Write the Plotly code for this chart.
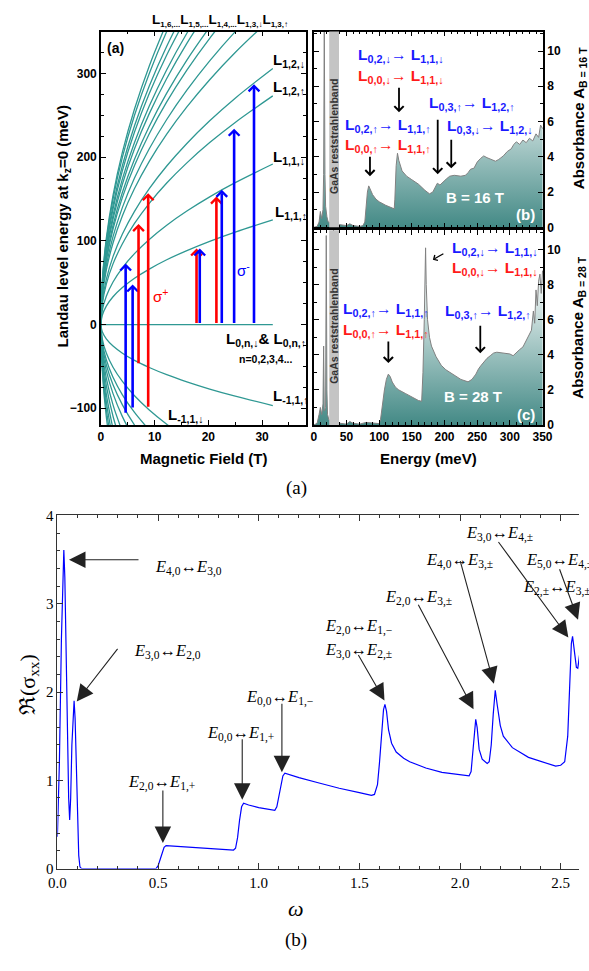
import plotly.graph_objects as go

W, H = 589, 971
def PX(x): return x / W
def PY(y): return 1 - y / H

TEAL = '#2f9893'
SANS = 'Liberation Sans, Arial, sans-serif'
SERIF = 'Liberation Serif, Times New Roman, serif'

# ---------------- panel (a): Landau levels (meV) vs magnetic field (T) ----------------
field_T = [0, 0.25, 1, 2.25, 4, 6.25, 9, 12.25, 16, 20.25, 25, 32]
levels_pos = [
    [0, 11.1, 22.1, 33.2, 44.2, 55.3, 66.3, 77.4, 88.4, 99.5, 110.5, 125.0],
    [0, 17.0, 33.9, 50.9, 67.8, 84.8, 101.7, 118.7, 135.6, 152.6, 169.5, 191.8],
    [0, 24.2, 48.3, 72.5, 96.6, 120.8, 144.9, 169.1, 193.2, 217.4, 241.5, 273.2],
    [0, 27.1, 54.1, 81.2, 108.2, 135.3, 162.3, 189.4, 216.4, 243.5, 270.5, 306.0],
    [0, 32.5, 65, 97.5, 130, 162.5, 195, 227.5, 260, 292.5, 325, 367.7],
    [0, 35, 70, 105, 140, 175, 210, 245, 280, 315, 350, 396],
    [0, 38, 76, 114, 152, 190, 228, 266, 304, 342, 380],
    [0, 39.5, 79, 118.5, 158, 197.5, 237, 276.5, 316, 355.5],
    [0, 42, 84, 126, 168, 210, 252, 294, 336, 378],
    [0, 43.5, 87, 130.5, 174, 217.5, 261, 304.5, 348, 391.5],
    [0, 46, 92, 138, 184, 230, 276, 322, 368],
    [0, 47.5, 95, 142.5, 190, 237.5, 285, 332.5, 380],
    [0, 50, 100, 150, 200, 250, 300, 350, 400],
    [0, 51.5, 103, 154.5, 206, 257.5, 309, 360.5],
]
levels_neg = [
    [0, -8.6, -17.1, -25.7, -34.2, -42.8, -51.3, -59.9, -68.4, -77.0, -85.5, -96.7],
    [0, -17, -34, -51, -68, -85, -102, -119, -136],
    [0, -21, -42, -63, -84, -105, -126],
    [0, -24, -48, -72, -96, -120, -144],
    [0, -27.5, -55, -82.5, -110, -137.5],
    [0, -32, -64, -96, -128],
    [0, -36.5, -73, -109.5, -146],
    [0, -41.5, -83, -124.5],
    [0, -46, -92, -138],
    [0, -50.5, -101, -151.5],
    [0, -55, -110, -165],
]
zero_B = [0, 32]
zero_E = [0, 0]

# optical transitions (vertical arrows)
tr_B = [4.6, 5.9, 7.0, 8.8, 17.8, 18.4, 21.5, 22.5, 24.8, 28.5]
tr_from = [-107, -101, -48, -100, 0, 0, 0, 0, 0, 0]
tr_to = [73, 48, 120, 157, 91, 91, 153, 161, 234, 287]
tr_color = ['#0000ff', '#0000ff', '#ff0000', '#ff0000', '#ff0000', '#0000ff',
            '#ff0000', '#0000ff', '#0000ff', '#0000ff']

# ---------------- panel (b): absorbance at 16 T ----------------
E16 = [0, 5, 8, 10, 12, 14, 15, 16, 17, 18, 20, 22, 40, 50, 55, 60, 70, 75, 78, 80, 82, 84,
       86, 90, 95, 100, 110, 120, 123, 124, 126, 128, 130, 135, 142, 150, 160, 170, 177, 182,
       186, 189, 193, 198, 203, 208, 215, 225, 232, 236, 240, 245, 250, 255, 260, 265, 272,
       278, 283, 290, 296, 302, 306, 310, 315, 320, 325, 330, 335, 340, 344, 347, 350]
A16 = [0, 0.05, 0.3, 0.9, 0.5, 1.0, 3.0, 11.5, 3.0, 1.2, 0.6, 0.3, 0.15, 0.1, 0.2, 0.1, 0.05,
       0.1, 0.3, 1.2, 2.0, 2.35, 2.2, 1.85, 1.6, 1.45, 1.25, 1.08, 1.05, 1.6, 3.5, 4.2, 3.8,
       3.2, 2.9, 2.7, 2.45, 2.1, 1.9, 2.0, 2.3, 2.5, 2.4, 2.6, 2.75, 2.9, 2.95, 2.9, 2.95, 3.1,
       3.3, 3.35, 3.7, 3.9, 4.05, 3.95, 3.85, 3.75, 3.85, 4.05, 4.3, 4.45, 4.7, 4.85, 4.7,
       4.95, 4.8, 5.05, 4.9, 5.3, 5.1, 5.8, 5.6]

# ---------------- panel (c): absorbance at 28 T ----------------
E28 = [0, 5, 8, 10, 12, 14, 15, 16, 18, 19, 20, 21, 23, 40, 50, 55, 60, 70, 80, 90, 100, 102,
       105, 108, 111, 114, 117, 120, 125, 130, 140, 150, 160, 165, 167, 169, 171, 172, 174,
       177, 180, 187, 195, 202, 210, 216, 225, 236, 242, 248, 252, 256, 260, 265, 270, 275,
       280, 290, 300, 305, 310, 315, 320, 325, 330, 333, 336, 338, 340, 342, 344, 346, 348, 350]
A28 = [0, 0.1, 0.6, 1.0, 0.6, 1.2, 4.5, 0.8, 1.0, 10.8, 2.0, 0.6, 0.3, 0.1, 0.05, 0.2, 0.1,
       0.05, 0.15, 0.1, 0.08, 0.3, 1.2, 2.0, 2.6, 2.9, 2.75, 2.45, 2.15, 2.0, 1.8, 1.6, 1.4,
       1.35, 3.0, 6.0, 10.1, 8.0, 6.0, 5.0, 4.5, 3.9, 3.4, 3.15, 2.95, 2.8, 2.6, 2.46, 2.6,
       2.9, 3.2, 3.4, 3.6, 3.8, 3.95, 4.1, 4.15, 4.1, 4.05, 3.95, 4.15, 4.3, 4.45, 4.8, 5.1,
       5.4, 6.5, 5.8, 7.7, 6.8, 8.2, 8.6, 7.5, 8.8]
reststrahlen_band = [23.5, 38.5]

# ---------------- bottom panel: Re(sigma_xx) vs omega ----------------
omega = [0.000, 0.010, 0.020, 0.027, 0.032, 0.037, 0.043, 0.050, 0.056, 0.061, 0.066, 0.072,
         0.078, 0.083, 0.088, 0.094, 0.100, 0.106, 0.112, 0.120, 0.490, 0.500, 0.510, 0.520,
         0.530, 0.540, 0.600, 0.700, 0.800, 0.875, 0.885, 0.895, 0.905, 0.915, 0.925, 0.950,
         1.000, 1.050, 1.080, 1.090, 1.100, 1.110, 1.120, 1.130, 1.200, 1.300, 1.400, 1.500,
         1.560, 1.575, 1.590, 1.600, 1.610, 1.620, 1.627, 1.635, 1.645, 1.660, 1.683, 1.720,
         1.750, 1.830, 1.910, 2.000, 2.045, 2.055, 2.065, 2.072, 2.078, 2.085, 2.095, 2.110,
         2.135, 2.145, 2.155, 2.165, 2.175, 2.185, 2.200, 2.215, 2.260, 2.340, 2.420, 2.475,
         2.500, 2.520, 2.535, 2.545, 2.553, 2.559, 2.567, 2.578, 2.585, 2.595, 2.610]
re_sigma = [0.36, 1.2, 2.6, 3.3, 3.61, 3.3, 2.4, 1.4, 0.8, 0.55, 0.8, 1.4,
            1.8, 1.90, 1.7, 1.1, 0.5, 0.15, 0.02, 0.0, 0.0, 0.03, 0.10, 0.18,
            0.24, 0.26, 0.25, 0.235, 0.22, 0.21, 0.23, 0.35, 0.55, 0.70, 0.74, 0.72,
            0.69, 0.67, 0.66, 0.70, 0.82, 0.96, 1.05, 1.08, 1.03, 0.97, 0.91, 0.86,
            0.83, 0.84, 0.95, 1.2, 1.55, 1.80, 1.86, 1.78, 1.57, 1.42, 1.32, 1.25,
            1.21, 1.14, 1.09, 1.06, 1.05, 1.1, 1.35, 1.6, 1.69, 1.6, 1.35, 1.24,
            1.19, 1.21, 1.40, 1.75, 2.02, 1.85, 1.62, 1.50, 1.37, 1.26, 1.20, 1.16,
            1.17, 1.21, 1.5, 2.1, 2.55, 2.63, 2.5, 2.28, 2.27, 2.45, 2.7]

fig = go.Figure()

for E in levels_pos + levels_neg:
    fig.add_trace(go.Scatter(x=field_T[:len(E)], y=E, mode='lines',
                             line=dict(color=TEAL, width=1.3, shape='spline'),
                             xaxis='x', yaxis='y', showlegend=False, hoverinfo='skip'))
fig.add_trace(go.Scatter(x=zero_B, y=zero_E, mode='lines', line=dict(color=TEAL, width=1.3),
                         xaxis='x', yaxis='y', showlegend=False, hoverinfo='skip'))

grad = dict(type='vertical', colorscale=[[0, '#3f8783'], [1, '#e4eeed']], start=0, stop=7.5)
fig.add_trace(go.Scatter(x=E16, y=A16, mode='lines', fill='tozeroy', fillgradient=grad,
                         line=dict(color='#808080', width=1), xaxis='x2', yaxis='y2',
                         showlegend=False, hoverinfo='skip'))
fig.add_trace(go.Scatter(x=E28, y=A28, mode='lines', fill='tozeroy', fillgradient=grad,
                         line=dict(color='#808080', width=1), xaxis='x3', yaxis='y3',
                         showlegend=False, hoverinfo='skip'))

fig.add_trace(go.Scatter(x=omega, y=re_sigma, mode='lines', line=dict(color='#0000ff', width=1.2),
                         xaxis='x4', yaxis='y4', showlegend=False, hoverinfo='skip'))

ann = []
shapes = []

# transitions in (a)
for b, e0, e1, c in zip(tr_B, tr_from, tr_to, tr_color):
    ann.append(dict(x=b, y=e1, ax=b, ay=e0, xref='x', yref='y', axref='x', ayref='y',
                    text='', showarrow=True, arrowhead=4, arrowsize=0.8, arrowwidth=2.6,
                    arrowcolor=c))

def txt(t, x, y, size=13, color='black', family=SANS, bold=True, xanchor='left',
        yanchor='middle', angle=0):
    ann.append(dict(text=t, x=PX(x), y=PY(y), xref='paper', yref='paper', showarrow=False,
                    xanchor=xanchor, yanchor=yanchor, textangle=angle,
                    font=dict(size=size, color=color, family=family,
                              weight='bold' if bold else 'normal')))

def arr(x0, y0, x1, y1, color='black', width=1.8, head=4, size=1.0):
    ann.append(dict(text='', x=PX(x1), y=PY(y1), xref='paper', yref='paper',
                    axref='pixel', ayref='pixel', ax=x0 - x1, ay=y0 - y1, showarrow=True,
                    arrowhead=head, arrowsize=size, arrowwidth=width, arrowcolor=color))

def ssub(s, px=8):
    return '<sub><span style="font-size:%gpx">%s</span></sub>' % (px, s)

# panel (a) labels
top_row = ('L' + ssub('1,6,...') + 'L' + ssub('1,5,...') + 'L' + ssub('1,4,...') +
           'L' + ssub('1,3,↓') + 'L' + ssub('1,3,↑'))
txt(top_row, 218, 13, 13.5, xanchor='center')
txt('L<sub>1,2,↓</sub>', 271, 53, 15)
txt('L<sub>1,2,↑</sub>', 271, 81, 15)
txt('L<sub>1,1,↓</sub>', 271, 152, 15)
txt('L<sub>1,1,↑</sub>', 273, 208, 15)
txt('(a)', 99, 41, 14)
txt('σ<sup>+</sup>', 147, 292, 15, color='#ff0000', bold=False)
txt('σ<sup>-</sup>', 234, 266, 15, color='#0000ff', bold=False)
txt('L<sub>0,n,↓</sub>&amp; L<sub>0,n,↑</sub>', 222, 337, 15)
txt('n=0,2,3,4...', 236, 357, 10.5)
txt('L<sub>-1,1,↑</sub>', 271, 395, 15)
txt('L<sub>-1,1,↓</sub>', 162, 414, 15)
txt('Landau level energy at k<sub>z</sub>=0 (meV)', 56, 222, 15, xanchor='center', angle=-90)
txt('Magnetic Field (T)', 201, 458, 15, xanchor='center')
txt('Energy (meV)', 433, 458, 15, xanchor='center')

# right panels labels
txt('Absorbance A<sub>B = 16 T</sub>', 589, 112, 15, xanchor='center', angle=-90)
txt('Absorbance A<sub>B = 28 T</sub>', 589, 325, 15, xanchor='center', angle=-90)
txt('GaAs reststrahlenband', 336, 130, 10.5, color='#333333', xanchor='center', angle=-90)
txt('GaAs reststrahlenband', 336, 323, 10.5, color='#333333', xanchor='center', angle=-90)

BL, RD = '#1a1aff', '#ff1a1a'
LS = 15.5
txt('L<sub>0,2,↓</sub>→ L<sub>1,1,↓</sub>', 359, 48, LS, color=BL)
txt('L<sub>0,0,↓</sub>→ L<sub>1,1,↓</sub>', 359, 70, LS, color=RD)
txt('L<sub>0,3,↑</sub>→ L<sub>1,2,↑</sub>', 432, 97, LS, color=BL)
txt('L<sub>0,3,↓</sub>→ L<sub>1,2,↓</sub>', 451, 120, LS, color=BL)
txt('L<sub>0,2,↑</sub>→ L<sub>1,1,↑</sub>', 345, 119, LS, color=BL)
txt('L<sub>0,0,↑</sub>→ L<sub>1,1,↑</sub>', 345, 140, LS, color=RD)
arr(403, 80, 403, 106)
arr(373, 150, 373, 171)
arr(443, 113, 443, 169)
arr(457, 133, 457, 163)
txt('B = 16 T', 482, 193, 15, color='white', xanchor='center')
txt('(b)', 534, 210, 15, color='white', xanchor='center')

txt('L<sub>0,2,↓</sub>→ L<sub>1,1,↓</sub>', 456, 245, LS, color=BL)
txt('L<sub>0,0,↓</sub>→ L<sub>1,1,↓</sub>', 456, 265, LS, color=RD)
txt('L<sub>0,2,↑</sub>→ L<sub>1,1,↑</sub>', 343, 307, LS, color=BL)
txt('L<sub>0,0,↑</sub>→ L<sub>1,1,↑</sub>', 343, 328, LS, color=RD)
txt('L<sub>0,3,↑</sub>→ L<sub>1,2,↑</sub>', 448, 309, LS, color=BL)
arr(450, 249, 438, 256, width=1.2)
arr(392, 338, 392, 361)
arr(487, 322, 487, 351)
txt('B = 28 T', 479, 395, 15, color='white', xanchor='center')
txt('(c)', 534, 413, 15, color='white', xanchor='center')

# bottom panel labels
def etxt(t, x, y, xanchor='center'):
    txt(t, x, y, 16.5, family=SERIF, bold=False, xanchor=xanchor)

etxt('<i>E</i><sub>4,0</sub>↔<i>E</i><sub>3,0</sub>', 185, 569)
etxt('<i>E</i><sub>3,0</sub>↔<i>E</i><sub>2,0</sub>', 164, 654)
etxt('<i>E</i><sub>2,0</sub>↔<i>E</i><sub>1,+</sub>', 158, 787)
etxt('<i>E</i><sub>0,0</sub>↔<i>E</i><sub>1,+</sub>', 239, 738)
etxt('<i>E</i><sub>0,0</sub>↔<i>E</i><sub>1,−</sub>', 280, 701)
etxt('<i>E</i><sub>2,0</sub>↔<i>E</i><sub>1,−</sub>', 361, 629)
etxt('<i>E</i><sub>3,0</sub>↔<i>E</i><sub>2,±</sub>', 361, 653)
etxt('<i>E</i><sub>2,0</sub>↔<i>E</i><sub>3,±</sub>', 423, 599)
etxt('<i>E</i><sub>4,0</sub>↔<i>E</i><sub>3,±</sub>', 465, 562)
etxt('<i>E</i><sub>3,0</sub>↔<i>E</i><sub>4,±</sub>', 507, 534)
etxt('<i>E</i><sub>5,0</sub>↔<i>E</i><sub>4,±</sub>', 532, 562, xanchor='left')
etxt('<i>E</i><sub>2,±</sub>↔<i>E</i><sub>3,±</sub>', 529, 589, xanchor='left')

AC = '#222222'
AS = 3.0
arr(133, 561, 62, 561, AC, 1.1, 2, AS)
arr(112, 651, 70, 705, AC, 1.1, 2, AS)
arr(159, 795, 159, 849, AC, 1.1, 2, AS)
arr(241, 743, 241, 805, AC, 1.1, 2, AS)
arr(282, 707, 282, 777, AC, 1.1, 2, AS)
arr(361, 657, 388, 704, AC, 1.1, 2, AS)
arr(424, 607, 480, 713, AC, 1.1, 2, AS)
arr(467, 563, 501, 687, AC, 1.1, 2, AS)
arr(507, 543, 578, 640, AC, 1.1, 2, AS)
arr(569, 570, 588, 622, AC, 1.1, 2, AS)

txt('ℜ(σ<sub>xx</sub>)', 20, 688, 22, family=SERIF, bold=False, xanchor='center', angle=-90)
txt('<i>ω</i>', 297, 916, 22, family=SERIF, bold=False, xanchor='center')
txt('(a)', 297, 488, 19, family=SERIF, bold=False, xanchor='center')
txt('(b)', 297, 948, 19, family=SERIF, bold=False, xanchor='center')

for xr, yr in (('x2', 'y2'), ('x3', 'y3')):
    shapes.append(dict(type='rect', xref=xr, yref=yr + ' domain', x0=reststrahlen_band[0],
                       x1=reststrahlen_band[1], y0=0, y1=1, fillcolor='#c4c4c4',
                       line=dict(width=0), layer='above'))

tf_bold = dict(family=SANS, size=12, color='black', weight='bold')
tf_serif = dict(family=SERIF, size=15, color='black')

def axis_common(**kw):
    d = dict(showline=True, linecolor='black', linewidth=1.5, ticks='inside', ticklen=5,
             tickwidth=1.3, tickcolor='black', mirror='ticks', showgrid=False, zeroline=False)
    d.update(kw)
    return d

fig.update_layout(
    width=W, height=H, margin=dict(l=0, r=0, t=0, b=0),
    paper_bgcolor='white', plot_bgcolor='white', showlegend=False,
    xaxis=axis_common(domain=[PX(95), PX(307)], range=[0, 38.2], anchor='y',
                      tickvals=[0, 10, 20, 30], tickfont=tf_bold,
                      minor=dict(dtick=5, ticks='inside', ticklen=3, tickcolor='black')),
    yaxis=axis_common(domain=[PY(424), PY(24)], range=[-120, 350], anchor='x',
                      tickvals=[-100, 0, 100, 200, 300], tickfont=tf_bold,
                      minor=dict(dtick=25, ticks='inside', ticklen=3, tickcolor='black')),
    xaxis2=axis_common(domain=[PX(315), PX(552)], range=[0, 351], anchor='y2',
                       dtick=50, showticklabels=False,
                       minor=dict(dtick=10, ticks='inside', ticklen=3, tickcolor='black')),
    yaxis2=axis_common(domain=[PY(223), PY(24)], range=[0, 11.1], anchor='x2', side='right',
                       dtick=2, tickfont=tf_bold,
                       minor=dict(dtick=1, ticks='inside', ticklen=3, tickcolor='black')),
    xaxis3=axis_common(domain=[PX(315), PX(552)], range=[0, 351], anchor='y3',
                       dtick=50, tickfont=tf_bold,
                       minor=dict(dtick=10, ticks='inside', ticklen=3, tickcolor='black')),
    yaxis3=axis_common(domain=[PY(424), PY(226)], range=[0, 11.1], anchor='x3', side='right',
                       dtick=2, tickfont=tf_bold,
                       minor=dict(dtick=1, ticks='inside', ticklen=3, tickcolor='black')),
    xaxis4=dict(domain=[PX(50), 1.0], range=[0, 2.591], anchor='y4', showline=True,
                linecolor='#333333', linewidth=1, ticks='inside', ticklen=6, tickcolor='#333333',
                mirror='ticks', dtick=0.5, tickformat='.1f', tickfont=tf_serif,
                showgrid=False, zeroline=False,
                minor=dict(dtick=0.1, ticks='inside', ticklen=3, tickcolor='#333333')),
    yaxis4=dict(domain=[PY(875), PY(516)], range=[0, 4], anchor='x4', showline=True,
                linecolor='#333333', linewidth=1, ticks='inside', ticklen=6, tickcolor='#333333',
                dtick=1, tickfont=tf_serif, showgrid=False, zeroline=False,
                minor=dict(dtick=0.2, ticks='inside', ticklen=3, tickcolor='#333333')),
    annotations=ann, shapes=shapes,
)

fig.write_html('out.html')
